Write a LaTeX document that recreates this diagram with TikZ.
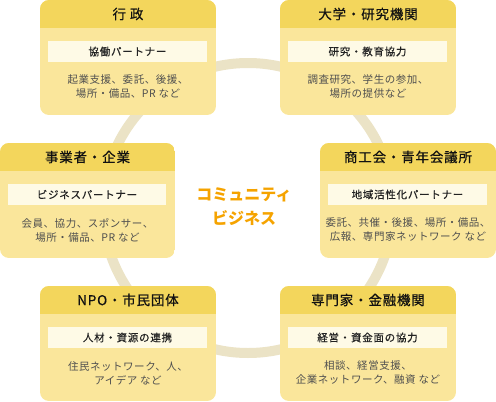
\documentclass[tikz,border=0pt]{standalone}
\usepackage{fontspec}
\setmainfont{Noto Sans CJK JP}
\newfontfamily\cjk{Noto Sans CJK JP}
\newfontfamily\cjktitle[LetterSpace=6,FakeBold=0.6]{Noto Sans CJK JP}
\newfontfamily\cjkinner[LetterSpace=7,FakeBold=0.4]{Noto Sans CJK JP}
\newfontfamily\cjkbody[LetterSpace=5]{Noto Sans CJK JP}
\definecolor{hdr}{HTML}{F3D65C}
\definecolor{bdy}{HTML}{FAE69B}
\definecolor{inr}{HTML}{FEFAE6}
\definecolor{ringc}{HTML}{EBE3C6}
\definecolor{ttl}{HTML}{111111}
\definecolor{inrtxt}{HTML}{222222}
\definecolor{txt}{HTML}{4F4F4F}
\definecolor{orgc}{HTML}{F5A300}
\tikzset{
  titletext/.style={font=\cjktitle\fontsize{13.5}{16}\selectfont, text=ttl, inner sep=0pt},
  innertext/.style={font=\cjkinner\fontsize{10.5}{13}\selectfont, text=inrtxt, inner sep=0pt},
  bodytext/.style={font=\cjkbody\fontsize{10.5}{14}\selectfont, text=txt, inner sep=0pt, align=center},
  centertext/.style={font=\cjk\bfseries\fontsize{16}{24}\selectfont, text=orgc, inner sep=0pt, align=center}
}
\newcommand\orgbox[7]{%
  \begin{scope}
    \clip[rounded corners=9pt] (#2,#3) rectangle ++(#4,115);
    \fill[bdy] (#2,#3) rectangle ++(#4,115);
    \fill[hdr] (#2,#3) rectangle ++(#4,28);
  \end{scope}
  \fill[inr] (#2+8,#3+41) rectangle (#2+#4-9,#3+62);
  \node[titletext] (#1-t) at (#2+#4/2,#3+14) {#5};
  \node[innertext] (#1-i) at (#2+#4/2-0.5,#3+51.5) {#6};
  \node[bodytext] (#1-b) at (#2+#4/2,#3+87) {#7};
}
\begin{document}
\begin{tikzpicture}[x=1pt,y=-1pt]
  \useasboundingbox (0,0) rectangle (496,402);
  \draw[ringc, line width=10pt] (248,208) circle[radius=145];
  \orgbox{gyosei}{40}{0}{176}{行 政}{協働パートナー}{起業支援、委託、後援、\\場所・備品、PR など}
  \orgbox{daigaku}{280}{0}{176}{大学・研究機関}{研究・教育協力}{調査研究、学生の参加、\\場所の提供など}
  \orgbox{jigyo}{0}{143}{175}{事業者・企業}{ビジネスパートナー}{会員、協力、スポンサー、\\場所・備品、PR など}
  \orgbox{shoko}{320}{143}{176}{商工会・青年会議所}{地域活性化パートナー}{委託、共催・後援、場所・備品、\\広報、専門家ネットワーク など}
  \orgbox{npo}{40}{286}{176}{NPO・市民団体}{人材・資源の連携}{住民ネットワーク、人、\\アイデア など}
  \orgbox{senmon}{280}{286}{176}{専門家・金融機関}{経営・資金面の協力}{相談、経営支援、\\企業ネットワーク、融資 など}
  \node[centertext] (center) at (244,207) {コミュニティ\\ビジネス};
\end{tikzpicture}
\end{document}
